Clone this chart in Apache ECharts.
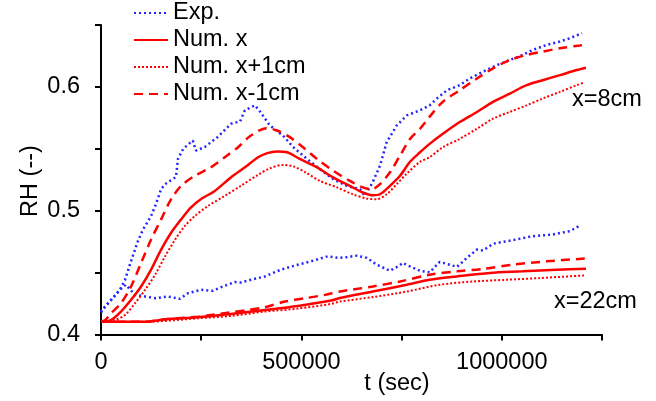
<!DOCTYPE html>
<html>
<head>
<meta charset="utf-8">
<script src="https://cdn.jsdelivr.net/npm/echarts@6/dist/echarts.min.js"></script>
<style>
  html, body { margin: 0; padding: 0; background: #fff; }
  #chart { width: 656px; height: 401px; }
</style>
</head>
<body>
<div id="chart"></div>
<script>
// Relative humidity at two depths (x = 8 cm and x = 22 cm): measurement vs. simulation

// --- x = 8 cm ---
const tExp8 = [0, 10000, 30000, 47000, 60000, 72000, 85000, 92000, 105000, 125000, 137000, 150000, 160000, 187000, 192000, 205000, 229000, 237000, 259000, 292000, 324000, 347000, 359000, 384000, 397000, 421000, 454000, 479000, 514000, 546000, 579000, 613000, 646000, 658000, 678000, 696000, 713000, 738000, 763000, 796000, 820000, 838000, 863000, 895000, 920000, 953000, 988000, 1020000, 1052000, 1077000, 1112000, 1145000, 1170000, 1200000];
const rhExp8 = [0.418, 0.4225, 0.4296, 0.4361, 0.4442, 0.4564, 0.4686, 0.4754, 0.4849, 0.4957, 0.5052, 0.5174, 0.5215, 0.5272, 0.5418, 0.5499, 0.5567, 0.5485, 0.5515, 0.5597, 0.5702, 0.5721, 0.5811, 0.5851, 0.5800, 0.5689, 0.5607, 0.5515, 0.5418, 0.5337, 0.5255, 0.5201, 0.5174, 0.5120, 0.5231, 0.5363, 0.5556, 0.5689, 0.5770, 0.5811, 0.5851, 0.5906, 0.5973, 0.6014, 0.6068, 0.6123, 0.6176, 0.6217, 0.6258, 0.6298, 0.6339, 0.6367, 0.6393, 0.6434];

const tNum8 = [0, 25000, 50000, 75000, 100000, 125000, 150000, 175000, 200000, 224000, 249000, 284000, 324000, 359000, 392000, 415000, 439000, 464000, 496000, 539000, 579000, 621000, 653000, 678000, 696000, 721000, 746000, 771000, 796000, 820000, 853000, 895000, 938000, 978000, 1020000, 1062000, 1102000, 1145000, 1187000, 1210000];
const rhNum8 = [0.4103, 0.4117, 0.4185, 0.4280, 0.4388, 0.4524, 0.4686, 0.4822, 0.4930, 0.5025, 0.5093, 0.5160, 0.5269, 0.5350, 0.5432, 0.5465, 0.5478, 0.5472, 0.5418, 0.5350, 0.5269, 0.5201, 0.5147, 0.5125, 0.5133, 0.5201, 0.5282, 0.5395, 0.5472, 0.5540, 0.5621, 0.5716, 0.5797, 0.5879, 0.5946, 0.6014, 0.6054, 0.6095, 0.6136, 0.6155];

const tPlus8 = [0, 20000, 35000, 60000, 85000, 110000, 135000, 160000, 185000, 209000, 234000, 267000, 309000, 349000, 392000, 420000, 455000, 480000, 510000, 546000, 589000, 628000, 663000, 688000, 713000, 738000, 763000, 796000, 820000, 853000, 895000, 938000, 978000, 1020000, 1062000, 1102000, 1145000, 1187000, 1205000];
const rhPlus8 = [0.4103, 0.4108, 0.4117, 0.4158, 0.4253, 0.4361, 0.4483, 0.4632, 0.4767, 0.4876, 0.4957, 0.5038, 0.5120, 0.5201, 0.5290, 0.5340, 0.5370, 0.5358, 0.5310, 0.5241, 0.5188, 0.5133, 0.5098, 0.5093, 0.5133, 0.5215, 0.5300, 0.5395, 0.5432, 0.5513, 0.5580, 0.5662, 0.5743, 0.5798, 0.5851, 0.5906, 0.5960, 0.6014, 0.6036];

const tMinus8 = [0, 10000, 25000, 50000, 75000, 100000, 125000, 150000, 175000, 200000, 234000, 274000, 309000, 342000, 374000, 413000, 439000, 471000, 504000, 539000, 579000, 621000, 653000, 676000, 696000, 721000, 746000, 771000, 796000, 820000, 853000, 895000, 938000, 978000, 1020000, 1062000, 1102000, 1145000, 1195000, 1210000];
const rhMinus8 = [0.4103, 0.4115, 0.4171, 0.4253, 0.4388, 0.4578, 0.4767, 0.4930, 0.5093, 0.5201, 0.5282, 0.5350, 0.5432, 0.5513, 0.5607, 0.5667, 0.5648, 0.5594, 0.5513, 0.5418, 0.5323, 0.5241, 0.5188, 0.5174, 0.5215, 0.5310, 0.5445, 0.5580, 0.5662, 0.5760, 0.5880, 0.5973, 0.6068, 0.6150, 0.6217, 0.6258, 0.6285, 0.6312, 0.6335, 0.6342];

// --- x = 22 cm ---
const tExp22 = [0, 10000, 30000, 47000, 62000, 85000, 110000, 137000, 167000, 197000, 217000, 249000, 279000, 304000, 334000, 349000, 374000, 409000, 449000, 491000, 524000, 566000, 591000, 613000, 638000, 663000, 688000, 721000, 741000, 753000, 771000, 796000, 820000, 845000, 870000, 888000, 913000, 938000, 953000, 978000, 1027000, 1077000, 1127000, 1170000, 1195000];
const rhExp22 = [0.418, 0.4225, 0.4296, 0.4361, 0.4402, 0.4320, 0.4307, 0.4293, 0.4307, 0.4288, 0.4334, 0.4361, 0.4353, 0.4388, 0.4424, 0.4420, 0.4442, 0.4469, 0.4524, 0.4564, 0.4591, 0.4632, 0.4619, 0.4624, 0.4637, 0.4619, 0.4564, 0.4515, 0.4550, 0.4578, 0.4550, 0.4515, 0.4502, 0.4586, 0.4564, 0.4546, 0.4619, 0.4686, 0.4678, 0.4733, 0.4762, 0.4794, 0.4808, 0.4835, 0.4881];

const tNum22 = [0, 110000, 160000, 242000, 324000, 409000, 491000, 574000, 596000, 678000, 763000, 820000, 888000, 970000, 1052000, 1137000, 1210000];
const rhNum22 = [0.4103, 0.4103, 0.4123, 0.4139, 0.4166, 0.4198, 0.4231, 0.4274, 0.4295, 0.4347, 0.4402, 0.4442, 0.4469, 0.4497, 0.4510, 0.4524, 0.4532];

const tPlus22 = [0, 110000, 242000, 324000, 409000, 491000, 574000, 596000, 678000, 763000, 845000, 928000, 1012000, 1095000, 1205000];
const rhPlus22 = [0.4103, 0.4103, 0.4131, 0.4150, 0.4185, 0.4209, 0.4247, 0.4266, 0.4302, 0.4347, 0.4402, 0.4428, 0.4442, 0.4456, 0.4477];

const tMinus22 = [0, 110000, 160000, 242000, 324000, 367000, 409000, 459000, 509000, 559000, 596000, 678000, 746000, 820000, 888000, 953000, 1027000, 1112000, 1207000];
const rhMinus22 = [0.4103, 0.4103, 0.4123, 0.4144, 0.4180, 0.4198, 0.4220, 0.4266, 0.4293, 0.4320, 0.4347, 0.4388, 0.4428, 0.4483, 0.4510, 0.4529, 0.4564, 0.4591, 0.4613];

// Axis ticks
const xTickStep = 250000;
const xLabelEvery = 500000;
const yTickStep = 0.05;

const FONT = '"Liberation Sans", Arial, sans-serif';
const FS = 23.5;
const BLUE = '#2424ff';
const RED = '#ff0000';

function pairs(t, v) { return t.map((x, i) => [x, v[i]]); }

const styles = {
  'Exp.':       { color: BLUE, width: 2.5, type: [2, 3] },
  'Num. x':     { color: RED,  width: 2.5, type: 'solid' },
  'Num. x+1cm': { color: RED,  width: 2,   type: [2, 2] },
  'Num. x-1cm': { color: RED,  width: 2.5, type: [9, 6] }
};

function curve(name, t, v) {
  const s = styles[name];
  return {
    name: name,
    type: 'line',
    data: pairs(t, v),
    symbol: 'none',
    showSymbol: false,
    smooth: name === 'Exp.' ? false : 0.3,
    lineStyle: { color: s.color, width: s.width, type: s.type, cap: 'butt' },
    itemStyle: { color: s.color },
    emphasis: { disabled: true },
    animation: false
  };
}

const chart = echarts.init(document.getElementById('chart'), null, { renderer: 'canvas' });

chart.setOption({
  backgroundColor: '#ffffff',
  animation: false,
  grid: { left: 101, right: 54, top: 25, bottom: 66.5, containLabel: false },
  legend: {
    orient: 'vertical',
    left: 133,
    top: 1,
    padding: 0,
    itemWidth: 34,
    itemHeight: 22,
    itemGap: 3,
    selectedMode: false,
    itemStyle: { opacity: 0 },
    textStyle: { fontSize: FS, fontFamily: FONT, color: '#000' },
    data: ['Exp.', 'Num. x', 'Num. x+1cm', 'Num. x-1cm']
  },
  xAxis: {
    type: 'value',
    min: 0,
    max: 1250000,
    interval: xTickStep,
    axisLine: { onZero: false, lineStyle: { color: '#000', width: 2 } },
    axisTick: { show: true, inside: false, length: 6, lineStyle: { color: '#000', width: 2 } },
    splitLine: { show: false },
    axisLabel: {
      margin: 16,
      fontSize: FS,
      fontFamily: FONT,
      color: '#000',
      formatter: v => (v % xLabelEvery === 0 ? String(v) : '')
    }
  },
  yAxis: {
    type: 'value',
    min: 0.4,
    max: 0.65,
    interval: yTickStep,
    axisLine: { show: true, onZero: false, lineStyle: { color: '#000', width: 2 } },
    axisTick: { show: true, inside: false, length: 6, lineStyle: { color: '#000', width: 2 } },
    splitLine: { show: false },
    axisLabel: {
      margin: 21,
      fontSize: FS,
      fontFamily: FONT,
      color: '#000',
      formatter: v => {
        const k = Math.round(v * 100);
        return k % 10 === 0 ? (k / 100).toFixed(1) : '';
      }
    }
  },
  graphic: [
    { type: 'text', left: 572, top: 88, silent: true,
      style: { text: 'x=8cm', fontSize: FS, fontFamily: FONT, fill: '#000' } },
    { type: 'text', left: 554, top: 290, silent: true,
      style: { text: 'x=22cm', fontSize: FS, fontFamily: FONT, fill: '#000' } },
    { type: 'text', x: 397, y: 384, silent: true,
      style: { text: 't (sec)', fontSize: FS, fontFamily: FONT, fill: '#000', align: 'center', verticalAlign: 'middle' } },
    { type: 'text', x: 31, y: 181, rotation: Math.PI / 2, silent: true,
      style: { text: 'RH (--)', fontSize: FS, fontFamily: FONT, fill: '#000', align: 'center', verticalAlign: 'middle' } }
  ],
  series: [
    curve('Exp.', tExp8, rhExp8),
    curve('Exp.', tExp22, rhExp22),
    curve('Num. x', tNum8, rhNum8),
    curve('Num. x', tNum22, rhNum22),
    curve('Num. x+1cm', tPlus8, rhPlus8),
    curve('Num. x+1cm', tPlus22, rhPlus22),
    curve('Num. x-1cm', tMinus8, rhMinus8),
    curve('Num. x-1cm', tMinus22, rhMinus22)
  ]
});
</script>
</body>
</html>
